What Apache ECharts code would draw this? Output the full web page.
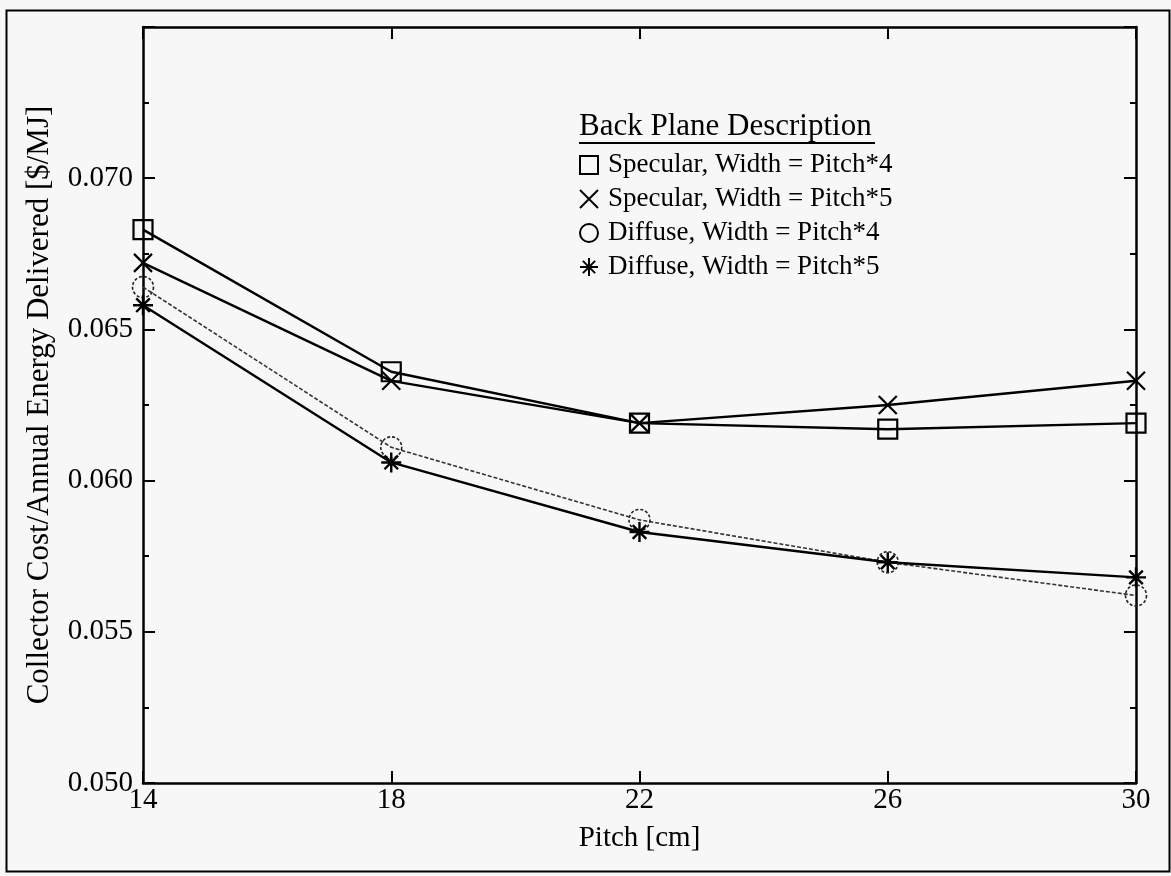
<!DOCTYPE html>
<html><head><meta charset="utf-8">
<script src="https://cdn.jsdelivr.net/npm/echarts@6/dist/echarts.min.js"></script>
<style>html,body{margin:0;padding:0;background:#f7f7f7}#c{width:1171px;height:876px}</style>
</head><body><div id="c"></div>
<script>
const pitch = [14, 18, 22, 26, 30];
const specular4 = [0.0683, 0.0636, 0.0619, 0.0617, 0.0619];
const specular5 = [0.0672, 0.0633, 0.0619, 0.0625, 0.0633];
const diffuse4 = [0.0664, 0.0611, 0.0587, 0.0573, 0.0562];
const diffuse5 = [0.0658, 0.0606, 0.0583, 0.0573, 0.0568];
const seriesNames = ['Specular, Width = Pitch*4', 'Specular, Width = Pitch*5', 'Diffuse, Width = Pitch*4', 'Diffuse, Width = Pitch*5'];
const yTicks = ['0.050', '0.055', '0.060', '0.065', '0.070'];
const legendTitle = 'Back Plane Description';

const FONT = '"Liberation Serif", "Times New Roman", serif';
const pts = ys => pitch.map((x, i) => [x, ys[i]]);
const X_SYM = 'path://M0,0L10,10M10,0L0,10';
const STAR_SYM = 'path://M5,0L5,10M0,5L10,5M1.6,1.6L8.4,8.4M8.4,1.6L1.6,8.4';

const chart = echarts.init(document.getElementById('c'));
const tickStyle = {show: true, inside: true, length: 12, lineStyle: {color: '#000', width: 2}};
const minor = {show: true, splitNumber: 2, length: 6, lineStyle: {color: '#000', width: 2}};
const axisLine = {show: true, lineStyle: {color: '#000', width: 2.5}};

chart.setOption({
  backgroundColor: '#f7f7f7',
  animation: false,
  grid: {left: 143, right: 35, top: 27, bottom: 93},
  xAxis: [{
    type: 'value', min: 14, max: 30, interval: 4, position: 'bottom',
    name: 'Pitch [cm]', nameLocation: 'middle', nameGap: 41,
    nameTextStyle: {fontFamily: FONT, fontSize: 29, color: '#000'},
    axisLine: axisLine, axisTick: tickStyle, splitLine: {show: false},
    axisLabel: {fontFamily: FONT, fontSize: 29, color: '#000', margin: 3}
  }, {
    type: 'value', min: 14, max: 30, interval: 4, position: 'top',
    axisLine: axisLine, axisTick: tickStyle, splitLine: {show: false},
    axisLabel: {show: false}
  }],
  yAxis: [{
    type: 'value', min: 0.05, max: 0.075, interval: 0.005, position: 'left',
    name: 'Collector Cost/Annual Energy Delivered [$/MJ]', nameLocation: 'middle', nameGap: 88,
    nameTextStyle: {fontFamily: FONT, fontSize: 31, color: '#000'},
    axisLine: axisLine, axisTick: tickStyle, minorTick: minor, splitLine: {show: false},
    axisLabel: {fontFamily: FONT, fontSize: 29, color: '#000', margin: 10, showMaxLabel: false,
      formatter: v => { const i = Math.round((v - 0.05) / 0.005); return yTicks[i] || ''; }}
  }, {
    type: 'value', min: 0.05, max: 0.075, interval: 0.005, position: 'right',
    axisLine: axisLine, axisTick: tickStyle, minorTick: minor, splitLine: {show: false},
    axisLabel: {show: false}
  }],
  legend: {
    orient: 'vertical', left: 579, top: 148, padding: 0, itemGap: 0,
    itemWidth: 18, itemHeight: 18,
    textStyle: {fontFamily: FONT, fontSize: 27, color: '#000', lineHeight: 34, padding: [0, 0, 0, 5]},
    itemStyle: {color: 'transparent', borderColor: '#000', borderWidth: 2, borderType: 'solid'},
    data: [
      {name: seriesNames[0], icon: 'rect'},
      {name: seriesNames[1], icon: X_SYM},
      {name: seriesNames[2], icon: 'circle'},
      {name: seriesNames[3], icon: STAR_SYM}
    ]
  },
  graphic: [
    {type: 'rect', left: 4, top: 8, shape: {width: 1163, height: 861}, style: {fill: 'none', stroke: '#000', lineWidth: 2}, silent: true},
    {type: 'text', left: 579, top: 111, style: {text: legendTitle, font: '31px ' + FONT, fill: '#000'}},
    {type: 'line', shape: {x1: 579, y1: 143, x2: 875, y2: 143}, style: {stroke: '#000', lineWidth: 2}}
  ],
  series: [
    {name: seriesNames[0], type: 'line', data: pts(specular4), symbol: 'rect', symbolSize: 19,
      lineStyle: {color: '#000', width: 2.4}, itemStyle: {color: 'transparent', borderColor: '#000', borderWidth: 2.2}},
    {name: seriesNames[1], type: 'line', data: pts(specular5), symbol: X_SYM, symbolSize: 18,
      lineStyle: {color: '#000', width: 2.4}, itemStyle: {color: 'transparent', borderColor: '#000', borderWidth: 2.2}},
    {name: seriesNames[2], type: 'line', data: pts(diffuse4), symbol: 'circle', symbolSize: 21,
      lineStyle: {color: '#333', width: 1.6, type: [4, 2]}, itemStyle: {color: 'transparent', borderColor: '#222', borderWidth: 1.6, borderType: [3, 2]}},
    {name: seriesNames[3], type: 'line', data: pts(diffuse5), symbol: STAR_SYM, symbolSize: 20,
      lineStyle: {color: '#000', width: 2.4}, itemStyle: {color: 'transparent', borderColor: '#000', borderWidth: 2.4}}
  ]
});
</script></body></html>
